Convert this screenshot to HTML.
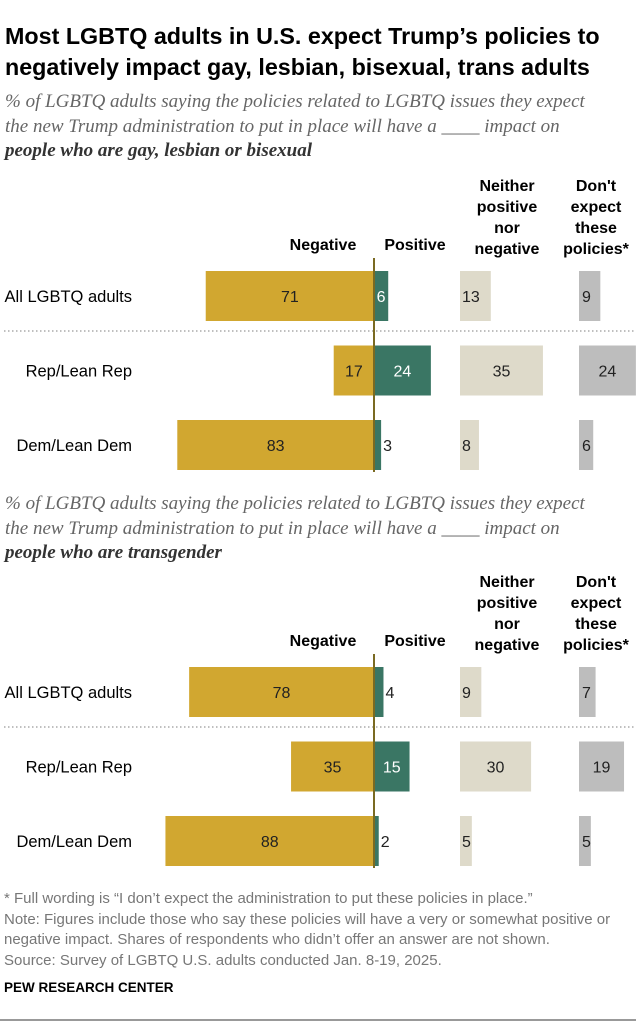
<!DOCTYPE html>
<html><head><meta charset="utf-8"><style>
body{margin:0;background:#fff;}
svg text{font-family:"Liberation Sans",sans-serif;}
</style></head><body>
<svg id="c" width="636" height="1023" xmlns="http://www.w3.org/2000/svg">
<text x="5" y="44" font-size="23.3" font-weight="bold" fill="#000">Most LGBTQ adults in U.S. expect Trump’s policies to</text>
<text x="5" y="75" font-size="23.3" font-weight="bold" fill="#000">negatively impact gay, lesbian, bisexual, trans adults</text>
<g font-style="italic" font-size="19" fill="#666">
<text x="5" y="107" style="font-family:'Liberation Serif',serif">% of LGBTQ adults saying the policies related to LGBTQ issues they expect</text>
<text x="5" y="132" style="font-family:'Liberation Serif',serif">the new Trump administration to put in place will have a ____ impact on</text>
<text x="5" y="156" style="font-family:'Liberation Serif',serif" font-weight="bold" fill="#333">people who are gay, lesbian or bisexual</text>
</g>
<g font-style="italic" font-size="19" fill="#666">
<text x="5" y="509" style="font-family:'Liberation Serif',serif">% of LGBTQ adults saying the policies related to LGBTQ issues they expect</text>
<text x="5" y="534" style="font-family:'Liberation Serif',serif">the new Trump administration to put in place will have a ____ impact on</text>
<text x="5" y="558" style="font-family:'Liberation Serif',serif" font-weight="bold" fill="#333">people who are transgender</text>
</g>
<g id="charts"></g>
<g font-size="15" fill="#777">
<text x="4" y="903">* Full wording is “I don’t expect the administration to put these policies in place.”</text>
<text x="4" y="924">Note: Figures include those who say these policies will have a very or somewhat positive or</text>
<text x="4" y="944">negative impact. Shares of respondents who didn’t offer an answer are not shown.</text>
<text x="4" y="965">Source: Survey of LGBTQ U.S. adults conducted Jan. 8-19, 2025.</text>
</g>
<text x="4" y="992" font-size="13.5" font-weight="bold" fill="#000">PEW RESEARCH CENTER</text>
<rect x="0" y="1019" width="636" height="2" fill="#999"/>
</svg>
<script>
const groups = ["All LGBTQ adults","Rep/Lean Rep","Dem/Lean Dem"];
const negGLB = [71,17,83];
const posGLB = [6,24,3];
const neitherGLB = [13,35,8];
const dontGLB = [9,24,6];
const negTrans = [78,35,88];
const posTrans = [4,15,2];
const neitherTrans = [9,30,5];
const dontTrans = [7,19,5];

const NS="http://www.w3.org/2000/svg";
const root=document.getElementById('charts');
const S=2.37, ZERO=374, NX=460, DX=579;
const xs=v=>v*S;
function mk(tag,attrs,parent){const e=document.createElementNS(NS,tag);for(const k in attrs)e.setAttribute(k,attrs[k]);(parent||root).appendChild(e);return e;}
function txt(x,y,s,attrs,parent){const t=mk('text',Object.assign({x:x,y:y},attrs),parent);t.textContent=s;return t;}

function chart(top,neg,pos,nei,dont,id){
  const g=mk('g',{});
  
  
  const hy=top;
  const H={'font-size':16,'font-weight':'bold','text-anchor':'middle',fill:'#000'};
  const h1=txt(323,hy,'Negative',H,g);
  
  
  const h2=txt(415,hy,'Positive',H,g);
  
  
  ['Neither','positive','nor','negative'].forEach((s,i)=>{const t=txt(507,hy-63+i*21+4,s,H,g);
    
    });
  ["Don't",'expect','these','policies*'].forEach((s,i)=>{const t=txt(596,hy-63+i*21+4,s,H,g);
    
    });
  const by0=top+21;
  groups.forEach((name,i)=>{
    const y=by0+i*74.5, cy=y+25;
    const l=txt(132,cy+6,name,{'font-size':16.5,'text-anchor':'end',fill:'#000'},g);
    
    
    const F={'font-size':16};
    const wn=xs(neg[i]);
    const r1=mk('rect',{x:ZERO-wn,y:y,width:wn,height:50,fill:'#D1A730'},g);
    
    
    txt(ZERO-wn/2,cy+6,neg[i],Object.assign({'text-anchor':'middle',fill:'#222'},F),g);
    const wp=xs(pos[i]);
    const r2=mk('rect',{x:ZERO,y:y,width:wp,height:50,fill:'#3A7664'},g);
    
    
    if(wp>=12) txt(ZERO+wp/2,cy+6,pos[i],Object.assign({'text-anchor':'middle',fill:'#fff'},F),g);
    else txt(ZERO+wp+2,cy+6,pos[i],Object.assign({fill:'#222'},F),g);
    const we=xs(nei[i]);
    const r3=mk('rect',{x:NX,y:y,width:we,height:50,fill:'#DEDACA'},g);
    
    
    if(we>=34) txt(NX+we/2,cy+6,nei[i],Object.assign({'text-anchor':'middle',fill:'#222'},F),g);
    else txt(NX+2,cy+6,nei[i],Object.assign({fill:'#222'},F),g);
    const wd=xs(dont[i]);
    const r4=mk('rect',{x:DX,y:y,width:wd,height:50,fill:'#BDBDBD'},g);
    
    
    if(wd>=34) txt(DX+wd/2,cy+6,dont[i],Object.assign({'text-anchor':'middle',fill:'#222'},F),g);
    else txt(DX+3,cy+6,dont[i],Object.assign({fill:'#222'},F),g);
  });
  const d=mk('line',{x1:4,x2:636,y1:by0+60,y2:by0+60,stroke:'#aaa','stroke-width':1.5,'stroke-dasharray':'1.5 2.5'},g);
  
  
  const z=mk('line',{x1:ZERO,x2:ZERO,y1:by0-13,y2:by0+201,stroke:'#7a6a22','stroke-width':2},g);
  
  
}
chart(250,negGLB,posGLB,neitherGLB,dontGLB,'chart-gay-lesbian-bisexual');
chart(646,negTrans,posTrans,neitherTrans,dontTrans,'chart-transgender');
</script>
</body></html>
